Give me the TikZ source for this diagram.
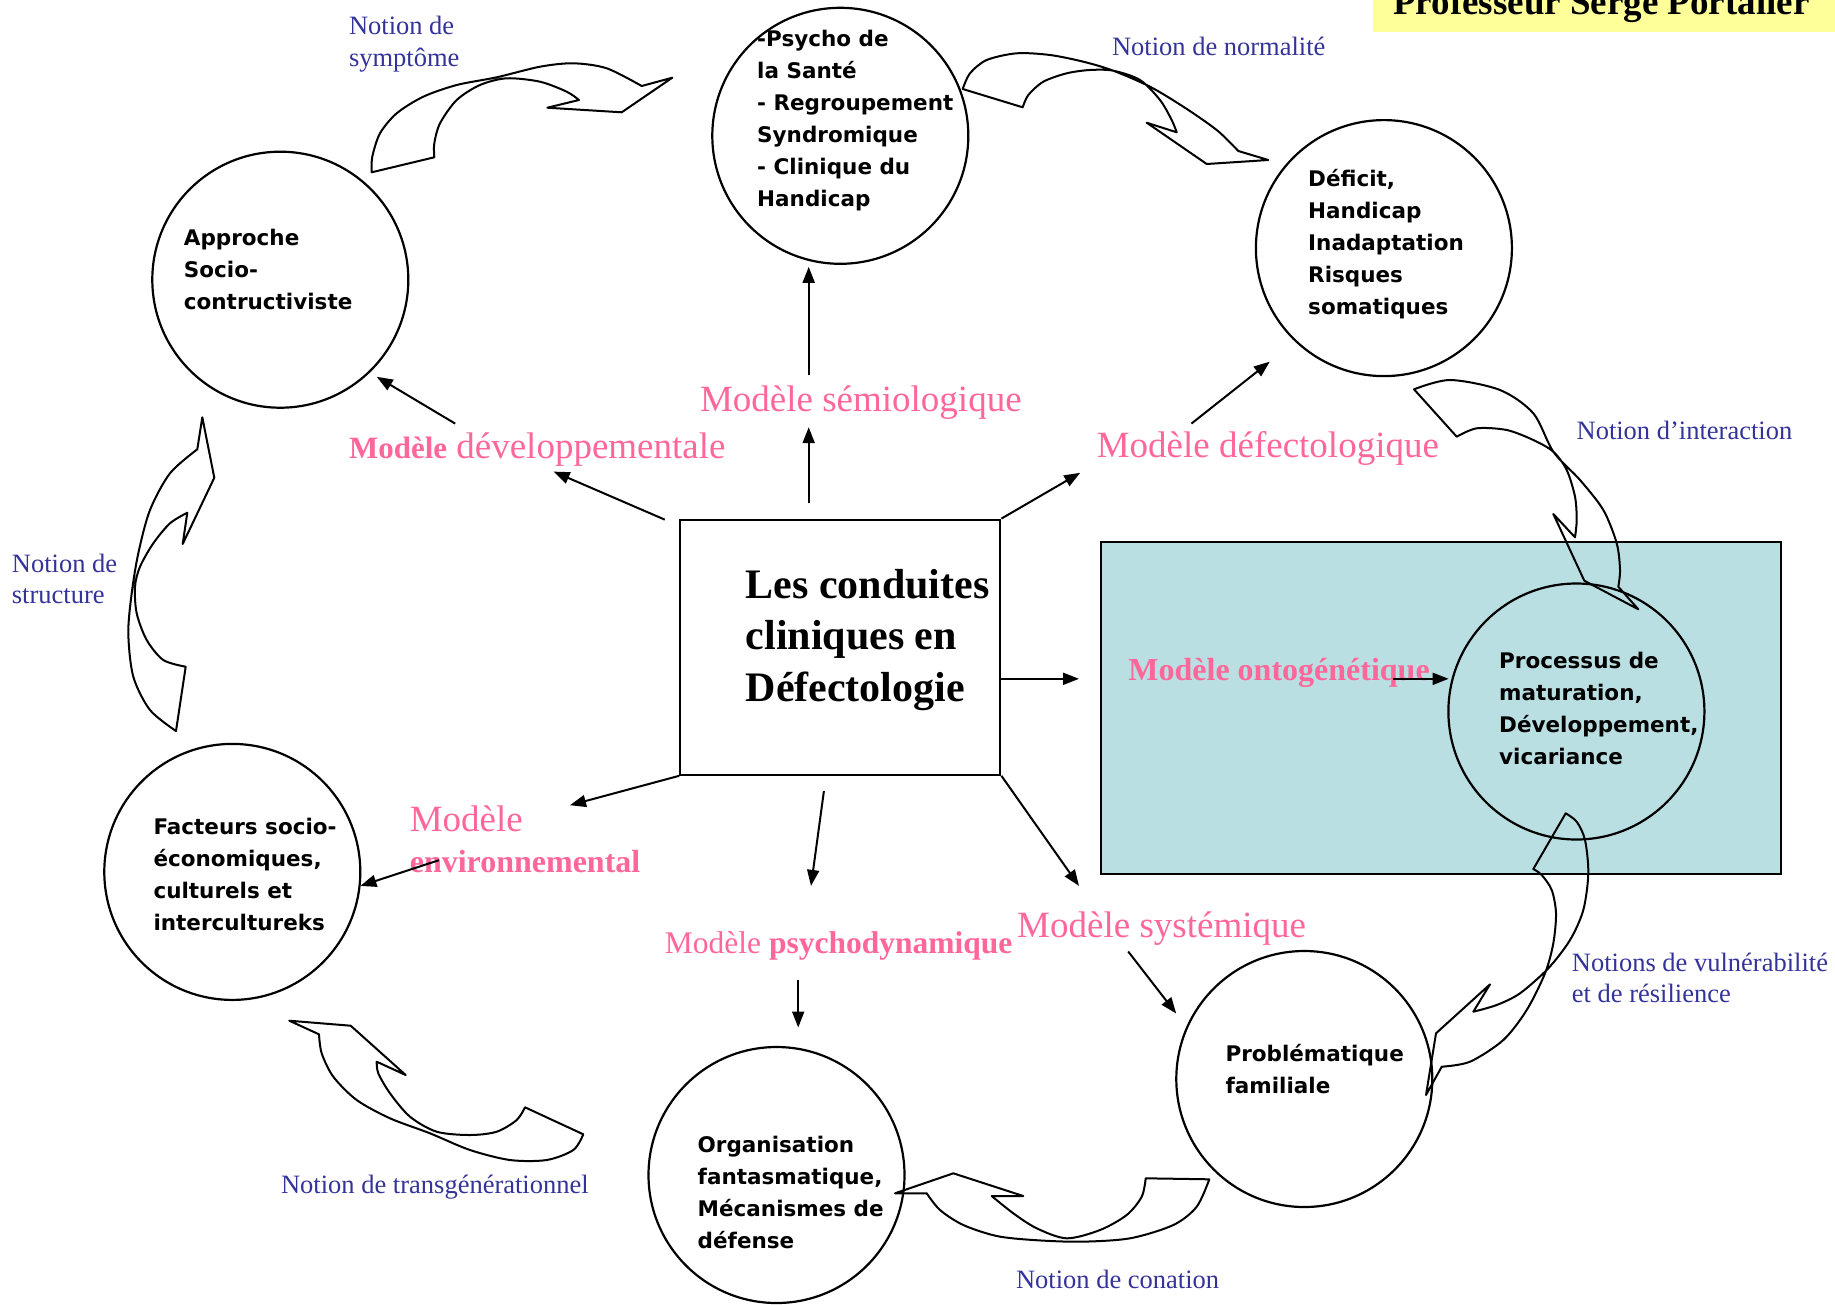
\documentclass[tikz,border=0pt]{standalone}
\usepackage{fontspec}
\setmainfont{Liberation Serif}
\newfontfamily\comicfont{DejaVu Sans}
\usetikzlibrary{arrows.meta}
\definecolor{modelpink}{RGB}{255,102,153}
\definecolor{notionblue}{RGB}{51,51,153}
\definecolor{ontoteal}{RGB}{186,223,226}
\definecolor{titleyellow}{RGB}{255,255,153}
\newcommand{\ringfont}{\comicfont\bfseries\fontsize{21.5}{32}\selectfont}

\begin{document}
\begin{tikzpicture}[
  x=1pt, y=-1pt,
  ring/.style={draw, circle, line width=2.2pt, minimum size=256pt, inner sep=0pt},
  ringtext/.style={font=\ringfont, align=left, anchor=west, inner sep=0pt},
  model/.style={text=modelpink, anchor=west, inner sep=0pt, align=left, yshift=-4pt,
                font=\fontsize{37}{41}\selectfont},
  notion/.style={text=notionblue, anchor=west, inner sep=0pt, align=left,
                 font=\fontsize{26.5}{31.6}\selectfont},
  arr/.style={-{Triangle[length=16pt, width=12pt]}, line width=2pt},
  curvarr/.style={draw, line width=2pt, line join=round}
]
\useasboundingbox (0,0) rectangle (1835,1304);
\clip (0,0) rectangle (1835,1304);
% ---- background pieces ----
\node[draw, line width=2.2pt, fill=ontoteal, minimum width=680pt, minimum height=332pt,
      inner sep=0pt] (onto) at (1441,708) {};
\node[fill=titleyellow, minimum width=462pt, minimum height=44pt, inner sep=0pt] (titlebg) at (1604,10) {};
\node[anchor=base west, inner sep=0pt, font=\bfseries\fontsize{37}{40}\selectfont] (title) at (1393,14)
     {Professeur Serge Portalier};
% ---- centre ----
\node[draw, line width=2.2pt, minimum width=320pt, minimum height=255pt, inner sep=0pt]
     (conduites) at (840.3,647.2) {};
\node[anchor=west, align=left, inner sep=0pt, font=\bfseries\fontsize{42}{51.5}\selectfont]
     (conduitesT) at (745.5,640) {Les conduites\\cliniques en\\Défectologie};
% ---- circles ----
\node[ring] (sante)    at (840.3,135.8) {};
\node[ring] (deficit)  at (1383.9,248.1) {};
\node[ring] (socio)    at (280.3,279.7) {};
\node[ring] (facteurs) at (232.3,871.9) {};
\node[ring] (fantasme) at (776.5,1175) {};
\node[ring] (famille)  at (1304.3,1079) {};
\node[ring] (matur)    at (1576.4,711.5) {};
\node[ringtext] (santeT)    at (757,120.5) {-Psycho de\\la Santé\\- Regroupement\\Syndromique\\- Clinique du\\Handicap};
\node[ringtext] (deficitT)  at (1308,244) {Déficit,\\Handicap\\Inadaptation\\Risques\\somatiques};
\node[ringtext] (socioT)    at (183.7,269.5) {Approche\\Socio-\\contructiviste};
\node[ringtext] (facteursT) at (153.3,874.5) {Facteurs socio-\\économiques,\\culturels et\\intercultureks};
\node[ringtext] (fantasmeT) at (697.5,1192.3) {Organisation\\fantasmatique,\\Mécanismes de\\défense};
\node[ringtext] (familleT)  at (1225.3,1068.8) {Problématique\\familiale};
\node[ringtext] (maturT)    at (1499,708.4) {Processus de\\maturation,\\Développement,\\vicariance};
% ---- model labels ----
\node[model] (semio)  at (699.8,399) {Modèle sémiologique};
\node[model] (devel)  at (348.8,445.9) {{\bfseries\fontsize{31}{41}\selectfont Modèle} développementale};
\node[model] (defect) at (1096.6,444.7) {Modèle défectologique};
\node[model, font=\bfseries\fontsize{32}{41}\selectfont] (ontoL) at (1128.2,669.4) {Modèle ontogénétique};
\node[model] (envir)  at (409.6,835) {Modèle\\{\bfseries\fontsize{32}{41}\selectfont environnemental}};
\node[model, font=\fontsize{31.5}{40}\selectfont] (psycho) at (664.7,942.1) {Modèle {\bfseries psychodynamique}};
\node[model] (system) at (1017,924.5) {Modèle systémique};
% ---- notion labels ----
\node[notion] (symptome)  at (348.8,44) {Notion de\\symptôme};
\node[notion] (normal)    at (1111.8,46.8) {Notion de normalité};
\node[notion] (interact)  at (1576.4,430.7) {Notion d’interaction};
\node[notion] (structure) at (11.7,578.8) {Notion de\\structure};
\node[notion] (transgen)  at (280.9,1186.7) {Notion de transgénérationnel};
\node[notion] (conation)  at (1015.8,1279) {Notion de conation};
\node[notion] (vulner)    at (1571.7,977.8) {Notions de vulnérabilité\\et de résilience};
% ---- straight arrows ----
\coordinate (semA) at (808.7,503.2);  \coordinate (semB) at (808.7,427.2);
\coordinate (semC) at (808.7,374.5);  \coordinate (semD) at (808.7,266.8);
\coordinate (defB) at (1080.2,472.8); \coordinate (defC) at (1191.4,423.6);
\coordinate (defD) at (1269.8,361.6);
\coordinate (devA) at (664.7,519.6);  \coordinate (devB) at (553.6,471.6);
\coordinate (devC) at (455.2,423.6);  \coordinate (devD) at (376.8,376.8);
\coordinate (ontA) at (1000.6,678.8); \coordinate (ontB) at (1079,678.8);
\coordinate (ontC) at (1392.5,678.8); \coordinate (ontD) at (1448.6,678.8);
\coordinate (envB) at (570,805.2);
\coordinate (envC) at (438.9,860.2);  \coordinate (envD) at (360.4,885.9);
\coordinate (psyA) at (823.9,791.1);  \coordinate (psyB) at (811,885.9);
\coordinate (psyC) at (798.2,979.5);  \coordinate (psyD) at (798.2,1027.5);
\coordinate (sysB) at (1079,885.9);
\coordinate (sysC) at (1128.2,951.5); \coordinate (sysD) at (1176.2,1013.5);
\draw[arr] (semA) -- (semB);
\draw[arr] (semC) -- (semD);
\draw[arr] (conduites.north east) -- (defB);
\draw[arr] (defC) -- (defD);
\draw[arr] (devA) -- (devB);
\draw[arr] (devC) -- (devD);
\draw[arr] (ontA) -- (ontB);
\draw[arr] (ontC) -- (ontD);
\draw[arr] (conduites.south west) -- (envB);
\draw[arr] (envC) -- (envD);
\draw[arr] (psyA) -- (psyB);
\draw[arr] (psyC) -- (psyD);
\draw[arr] (conduites.south east) -- (sysB);
\draw[arr] (sysC) -- (sysD);
% ---- curved block arrows ----
% symptome
\draw[curvarr] plot[smooth] coordinates {(371.7,172.3) (372.3,156.7) (380,133.3) (396.7,113.3)
    (423.3,96.7) (456.7,85) (496.7,77.3) (540,66.7) (573.3,63.3) (606.7,68.3) (641.7,86)}
  -- (672.3,77.7) -- (621.7,112.3) -- (547.3,107.7) -- (579,100)
  -- plot[smooth] coordinates {(579,100) (566.7,91.7) (540,81.7) (506.7,78.3) (480,85)
    (456.7,100) (440,123.3) (434.3,143.3) (434.3,157.3)} -- cycle;
% normalite
\draw[curvarr] plot[smooth] coordinates {(962.7,89) (970,73.3) (986.7,60) (1016.7,53.3) (1050,55)
    (1083.3,61.7) (1113.3,70.7) (1150,86.7) (1183.3,106.7) (1216.7,130) (1238.3,151)}
  -- (1268.3,160) -- (1206.7,164) -- (1146.7,122.7) -- (1176.7,132.3)
  -- plot[smooth] coordinates {(1176.7,132.3) (1171.7,120) (1160,100) (1140,80) (1113.3,70.7)
    (1090,70) (1066.7,73.3) (1043.3,81.7) (1028.3,95) (1022.7,107.3)} -- cycle;
% interaction
\draw[curvarr] plot[smooth] coordinates {(1414,389.3) (1450,380) (1500,390) (1533.3,413.3)
    (1553.3,451.7) (1580,480) (1603.3,510) (1616.7,543.3) (1620,570) (1618.3,586.7)}
  -- (1638.3,609.3) -- (1584.3,580.7) -- (1553.3,514) -- (1575,537.3)
  -- plot[smooth] coordinates {(1575,537.3) (1576.7,520) (1575,496.7) (1566.7,470) (1553.3,451.7)
    (1533.3,440) (1506.7,430) (1476.7,428.3) (1456.7,436.7)} -- cycle;
% structure
\draw[curvarr] plot[smooth] coordinates {(176,731) (150,710) (133.3,676.7) (128.3,633.3)
    (131.7,593.3) (138.3,553.3) (150,510) (170,473.3) (197.3,449.3)}
  -- (202.3,417.3) -- (214.3,477.7) -- (182.7,544) -- (187.3,512.7)
  -- plot[smooth] coordinates {(187.3,512.7) (170,523.3) (153.3,543.3) (140,566.7) (135,586.7)
    (136.7,613.3) (146.7,640) (163.3,660) (185.7,666.7)} -- cycle;
% transgenerationnel
\draw[curvarr] plot[smooth] coordinates {(525,1107.3) (516.7,1120) (496.7,1131.7) (470,1135)
    (436.7,1131.7) (410,1116.7) (390,1093.3) (378.3,1073.3) (376.7,1061.7)}
  -- (405.7,1075) -- (350.7,1025.7) -- (289.3,1020.7) -- (319,1034.3)
  -- plot[smooth] coordinates {(319,1034.3) (321.7,1053.3) (333.3,1076.7) (356.7,1100) (390,1118.3)
    (430,1133.3) (470,1150) (510,1160) (546.7,1160) (573.3,1150) (583.3,1134.3)} -- cycle;
% conation
\draw[curvarr] plot[smooth] coordinates {(1145.7,1178.3) (1141.7,1196.7) (1126.7,1215) (1100,1230)
    (1066.7,1238.3) (1036.7,1228.3) (1013.3,1213.3) (991.7,1196)}
  -- (1023.3,1196) -- (953.3,1173.3) -- (895,1193.3) -- (926.7,1193.3)
  -- plot[smooth] coordinates {(926.7,1193.3) (940,1210) (963.3,1225) (996.7,1236) (1033.3,1240)
    (1080,1241.7) (1130,1238.3) (1173.3,1225) (1196.7,1206.7) (1209.3,1179.3)} -- cycle;
% vulnerabilite
\draw[curvarr] plot[smooth] coordinates {(1565.7,813.3) (1576.7,821.7) (1585,840) (1588.3,873.3)
    (1583.3,910) (1570,940) (1548.3,968.3) (1520,993.3) (1496.7,1005) (1473.3,1011.7)}
  -- (1490,984.3) -- (1436,1033.3) -- (1426,1095) -- (1441.7,1066.7)
  -- plot[smooth] coordinates {(1441.7,1066.7) (1470,1061.7) (1503.3,1040) (1526.7,1010)
    (1545,973.3) (1553.3,943.3) (1556,913.3) (1551.7,890) (1541.7,875) (1533.3,869)} -- cycle;
\end{tikzpicture}
\end{document}
